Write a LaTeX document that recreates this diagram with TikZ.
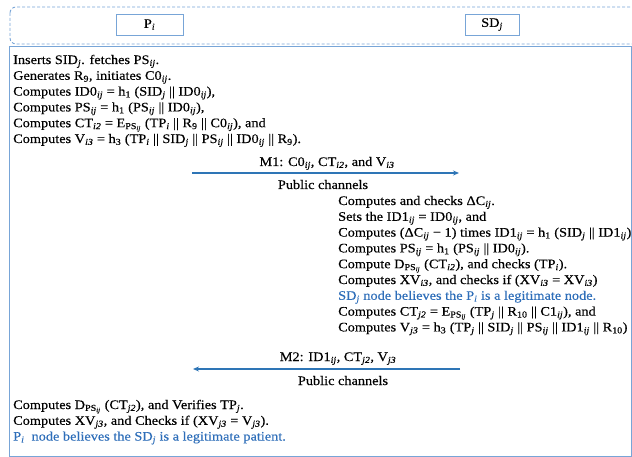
\documentclass[tikz,border=0pt]{standalone}
\usepackage{fontspec}
\setmainfont{Liberation Serif}[FakeStretch=1.10, FakeBold=0.3]
\usetikzlibrary{arrows.meta}
\definecolor{frameblue}{RGB}{120,165,215}
\definecolor{arrowblue}{RGB}{46,117,182}
\definecolor{textblue}{RGB}{46,110,185}
\newcommand{\isb}[1]{\textsubscript{\textit{#1}}}
\newcommand{\usb}[1]{\textsubscript{#1}}
\tikzset{
  txt/.style={anchor=base west, inner sep=0pt, font=\fontsize{13}{15}\selectfont},
  btxt/.style={txt, text=textblue},
  lbl/.style={anchor=base, inner sep=0pt, font=\fontsize{13}{15}\selectfont},
  partybox/.style={draw=frameblue, line width=0.9pt, inner sep=0pt, font=\fontsize{13}{15}\selectfont},
  msg/.style={draw=arrowblue, line width=1.2pt, -{Stealth[length=6pt,width=5pt]}}
}
\begin{document}
\begin{tikzpicture}[x=1pt,y=-1pt]
\useasboundingbox (0,0) rectangle (632,457);
\clip (0,0) rectangle (632,457);
% header
\draw[frameblue, line width=0.9pt, dash pattern=on 3pt off 2pt, rounded corners=6pt] (10,7) rectangle (645,44);
\node[partybox, minimum width=67pt, minimum height=21pt] (pi) at (149.5,24.5) {P\isb{i}};
\node[partybox, minimum width=54pt, minimum height=21pt] (sdj) at (492,24.5) {SD\isb{j}};
% main frame
\draw[frameblue, line width=1pt] (9,47) rectangle (631,456);
% block 1
\node[txt] (a1) at (13,64) {Inserts SID\isb{j}. fetches PS\isb{ij}.};
\node[txt] (a2) at (13,79.8) {Generates R\usb{9}, initiates C0\isb{ij}.};
\node[txt] (a3) at (13,95.6) {Computes ID0\isb{ij} = h\usb{1} (SID\isb{j} || ID0\isb{ij}),};
\node[txt] (a4) at (13,111.4) {Computes PS\isb{ij} = h\usb{1} (PS\isb{ij} || ID0\isb{ij}),};
\node[txt] (a5) at (13,127.2) {Computes CT\isb{i2} = E\usb{PS\isb{ij}} (TP\isb{i} || R\usb{9} || C0\isb{ij}), and};
\node[txt] (a6) at (13,143) {Computes V\isb{i3} = h\usb{3} (TP\isb{i} || SID\isb{j} || PS\isb{ij} || ID0\isb{ij} || R\usb{9}).};
% M1
\coordinate (m1s) at (192,173);
\coordinate (m1e) at (459,173);
\draw[msg] (m1s) -- (m1e);
\node[lbl] (m1) at (327,166) {M1: C0\isb{ij}, CT\isb{i2}, and V\isb{i3}};
\node[lbl] (pc1) at (323,189) {Public channels};
% SD block
\node[txt] (b1) at (338,205) {Computes and checks ΔC\isb{ij}.};
\node[txt] (b2) at (338,220.8) {Sets the ID1\isb{ij} = ID0\isb{ij}, and};
\node[txt] (b3) at (338,236.6) {Computes (ΔC\isb{ij} − 1) times ID1\isb{ij} = h\usb{1} (SID\isb{j} || ID1\isb{ij})};
\node[txt] (b4) at (338,252.4) {Computes PS\isb{ij} = h\usb{1} (PS\isb{ij} || ID0\isb{ij}).};
\node[txt] (b5) at (338,268.2) {Compute D\usb{PS\isb{ij}} (CT\isb{i2}), and checks (TP\isb{i}).};
\node[txt] (b6) at (338,284) {Computes XV\isb{i3}, and checks if (XV\isb{i3} = XV\isb{i3})};
\node[btxt] (b7) at (338,299.8) {SD\isb{j} node believes the P\isb{i} is a legitimate node.};
\node[txt] (b8) at (338,315.6) {Computes CT\isb{j2} = E\usb{PS\isb{ij}} (TP\isb{j} || R\usb{10} || C1\isb{ij}), and};
\node[txt] (b9) at (338,331.4) {Computes V\isb{j3} = h\usb{3} (TP\isb{j} || SID\isb{j} || PS\isb{ij} || ID1\isb{ij} || R\usb{10})};
% M2
\coordinate (m2s) at (460,369);
\coordinate (m2e) at (193,369);
\draw[msg] (m2s) -- (m2e);
\node[lbl] (m2) at (338,361) {M2: ID1\isb{ij}, CT\isb{j2}, V\isb{j3}};
\node[lbl] (pc2) at (343,385) {Public channels};
% bottom block
\node[txt] (c1) at (13,409) {Computes D\usb{PS\isb{ij}} (CT\isb{j2}), and Verifies TP\isb{j}.};
\node[txt] (c2) at (13,424.8) {Computes XV\isb{j3}, and Checks if (XV\isb{j3} = V\isb{j3}).};
\node[btxt] (c3) at (13,440.6) {P\isb{i}\ \ node believes the SD\isb{j} is a legitimate patient.};
\end{tikzpicture}
\end{document}
